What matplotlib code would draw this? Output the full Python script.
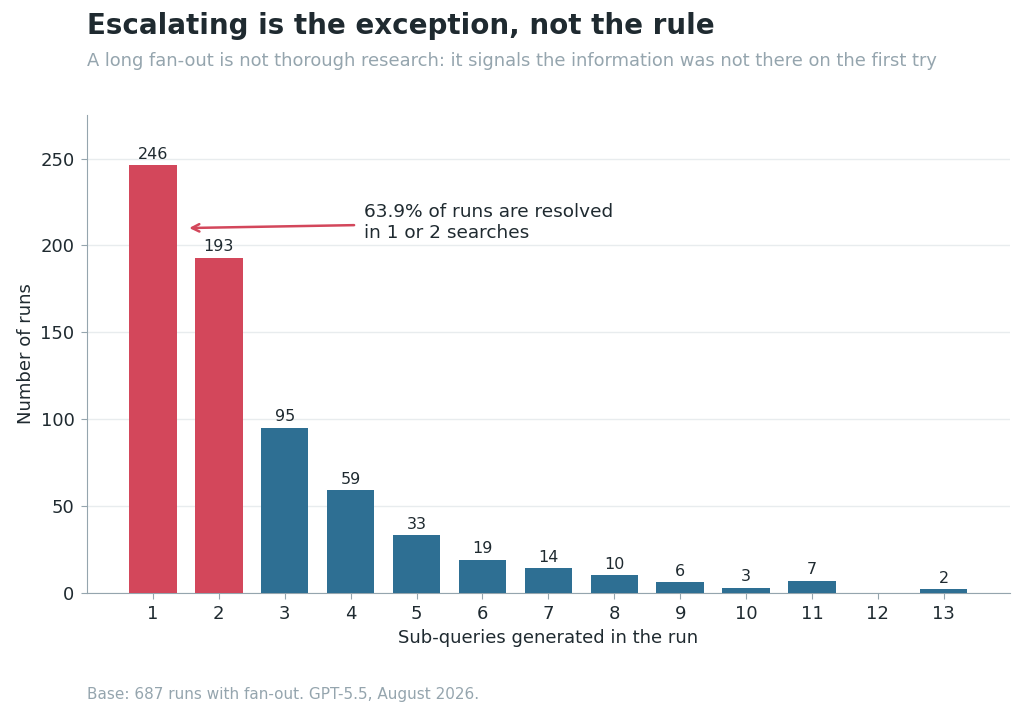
import matplotlib.pyplot as plt

queries = list(range(1, 14))
runs = [246, 193, 95, 59, 33, 19, 14, 10, 6, 3, 7, 0, 2]
highlight = [1, 2]

RED = '#d3475b'
BLUE = '#2e6f93'
DARK = '#1f2a30'
GREY = '#95a5ae'

fig = plt.figure(figsize=(10.24, 7.15), dpi=100)
ax = fig.add_axes([0.085, 0.171, 0.901, 0.668])

colors = [RED if q in highlight else BLUE for q in queries]
ax.bar(queries, runs, width=0.72, color=colors, zorder=3)
for q, v in zip(queries, runs):
    if v > 0:
        ax.text(q, v + 2, str(v), ha='center', va='bottom', fontsize=11.5, color=DARK)

ax.set_xlim(0, 14)
ax.set_ylim(0, 275)
ax.set_xticks(queries)
ax.set_yticks([0, 50, 100, 150, 200, 250])
ax.tick_params(labelsize=13, colors=DARK, pad=5)
ax.tick_params(axis='x', length=4, color=GREY)
ax.tick_params(axis='y', length=4, color=GREY)
ax.grid(axis='y', color='#e8ecee', lw=1, zorder=0)
for s in ['top', 'right']:
    ax.spines[s].set_visible(False)
for s in ['left', 'bottom']:
    ax.spines[s].set_color(GREY)
ax.set_xlabel('Sub-queries generated in the run', fontsize=13, color=DARK)
ax.set_ylabel('Number of runs', fontsize=13, color=DARK)

share = (runs[0] + runs[1]) / 687 * 100
ax.annotate(f'{share:.1f}% of runs are resolved\nin 1 or 2 searches',
            xy=(1.55, 210), xytext=(4.2, 213), fontsize=13.3, color=DARK,
            va='center', ha='left',
            arrowprops=dict(arrowstyle='->', color=RED, lw=1.8, shrinkB=0, shrinkA=5))

fig.text(0.085, 0.964, 'Escalating is the exception, not the rule',
         fontsize=20, fontweight='bold', color=DARK, va='center')
fig.text(0.085, 0.914, 'A long fan-out is not thorough research: it signals the information was not there on the first try',
         fontsize=12.9, color=GREY, va='center')
fig.text(0.085, 0.029, 'Base: 687 runs with fan-out. GPT-5.5, August 2026.',
         fontsize=11, color=GREY, va='center')

fig.savefig('out.png', dpi=100)
